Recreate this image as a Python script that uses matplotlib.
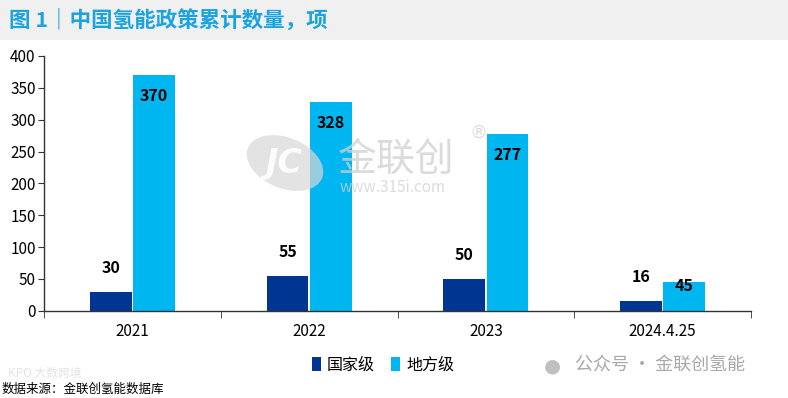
import matplotlib
matplotlib.use("Agg")
import matplotlib.pyplot as plt
import numpy as np
from matplotlib.patches import Rectangle, Ellipse

plt.rcParams['font.family'] = ['Noto Sans CJK SC', 'DejaVu Sans']

categories = ['2021', '2022', '2023', '2024.4.25']
national = [30, 55, 50, 16]
local = [370, 328, 277, 45]
series_names = ['国家级', '地方级']
yticks = [0, 50, 100, 150, 200, 250, 300, 350, 400]
title = '图 1｜中国氢能政策累计数量，项'
source = '数据来源：金联创氢能数据库'

navy = '#003591'
light = '#00B6F0'

fig = plt.figure(figsize=(7.88, 3.98), dpi=100)
fig.patch.set_facecolor('white')

# title band
fig.add_artist(Rectangle((0, 1 - 40/398), 1, 40/398, transform=fig.transFigure,
                         facecolor='#F0F0F0', edgecolor='none', zorder=0))
fig.text(9/788, 1 - 20/398, title, color='#1BA3E0', fontsize=15.5,
         fontweight='bold', va='center', ha='left')

ax = fig.add_axes([44/788, 1 - 310.7/398, (751-44)/788, (310.7-56)/398])
x = np.arange(len(categories))
w = 0.237
b1 = ax.bar(x - w/2 - 0.004, national, w, color=navy, label=series_names[0], zorder=2)
b2 = ax.bar(x + w/2 + 0.004, local, w, color=light, label=series_names[1], zorder=2)

for rect, v in zip(b1, national):
    ax.annotate(str(v), (rect.get_x() + rect.get_width()/2, v), xytext=(0, 17),
                textcoords='offset points', ha='center', va='center',
                fontsize=11.5, fontweight='bold', color='black', zorder=5)
for rect, v in zip(b2, local):
    off = -15 if v > 100 else -3
    ax.annotate(str(v), (rect.get_x() + rect.get_width()/2, v), xytext=(0, off),
                textcoords='offset points', ha='center', va='center',
                fontsize=11.5, fontweight='bold', color='black', zorder=5)

ax.set_xlim(-0.5, len(categories) - 0.5)
ax.set_ylim(0, 400)
ax.set_yticks(yticks)
ax.set_xticks(x)
ax.set_xticklabels(categories)
ax.set_xticks(np.arange(len(categories) + 1) - 0.5, minor=True)
ax.tick_params(axis='x', which='major', length=0, pad=9, labelsize=11)
ax.tick_params(axis='x', which='minor', length=5, direction='out', color='#333333')
ax.tick_params(axis='y', length=4, direction='out', labelsize=11, pad=2, color='#333333')
for s in ['top', 'right']:
    ax.spines[s].set_visible(False)
for s in ['left', 'bottom']:
    ax.spines[s].set_color('#333333')
    ax.spines[s].set_linewidth(1.0)

# watermark
fig.add_artist(Ellipse((285/788, 1 - 163/398), 70/788, 58/398, angle=20,
                       transform=fig.transFigure, facecolor='#d8d8d8', alpha=0.7,
                       edgecolor='none', zorder=9))
fig.text(284/788, 1 - 163/398, 'JC', fontsize=24, color='white', alpha=0.9,
         ha='center', va='center', zorder=10, fontweight='bold', fontstyle='italic',
         family='DejaVu Sans')
fig.text(338/788, 1 - 160/398, '金联创', fontsize=28, color='#d0d0d0', alpha=0.75,
         ha='left', va='center', zorder=10)
fig.text(470/788, 1 - 133/398, '®', fontsize=13, color='#d0d0d0', alpha=0.75,
         ha='left', va='center', zorder=10, family='DejaVu Sans')
fig.text(340/788, 1 - 187/398, 'www.315i.com', fontsize=11, color='#d0d0d0', alpha=0.75,
         ha='left', va='center', zorder=10)

leg = fig.legend(handles=[b1, b2], labels=series_names, loc='center',
                 bbox_to_anchor=(383/788, 1 - 365/398), ncol=2, frameon=False,
                 fontsize=11.5, handlelength=0.55, handleheight=0.9, handletextpad=0.4,
                 columnspacing=1.0)

fig.text(575/788, 1 - 366/398, '公众号 · 金联创氢能', fontsize=13, color='#a8a8a8',
         ha='left', va='center')
fig.text(552/788, 1 - 366/398, '●', fontsize=14, color='#c0c0c0',
         ha='center', va='center', family='DejaVu Sans')
fig.text(8/788, 1 - 373/398, 'KPO 大数跨境', fontsize=8.5, color='#e4e4e4',
         ha='left', va='center')
fig.text(2/788, 1 - 389/398, source, fontsize=9, color='black', ha='left', va='center')

fig.savefig('out.png', dpi=100)
